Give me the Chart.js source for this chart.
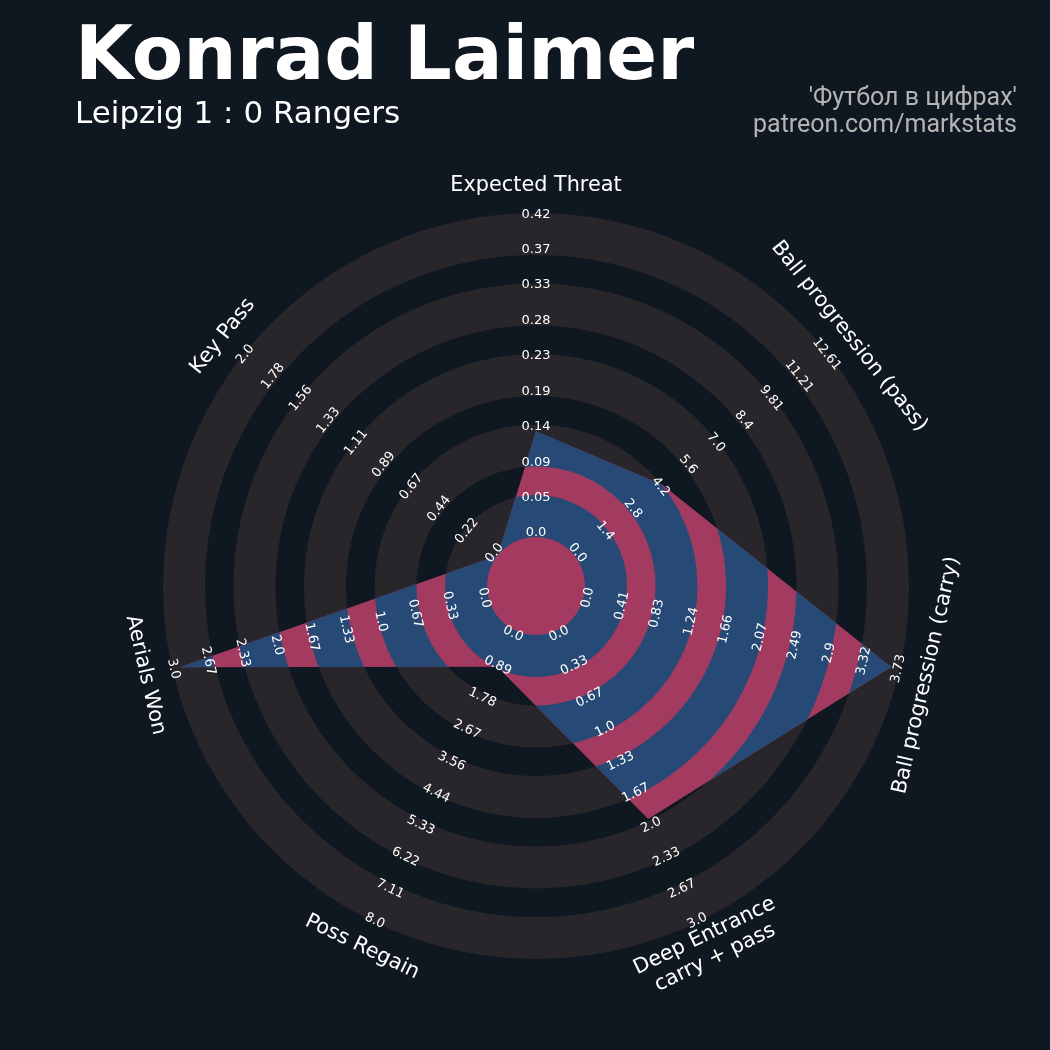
<!DOCTYPE html>
<html>
<head>
<meta charset="utf-8">
<script src="https://cdn.jsdelivr.net/npm/chart.js@4.4.1/dist/chart.umd.min.js"></script>
<style>
  html, body { margin: 0; padding: 0; background: #0f1820; }
  #wrap { position: relative; width: 1050px; height: 1050px; overflow: hidden; background: #0f1820; }
  #chart { position: absolute; left: 0; top: 0; }
  .txt { position: absolute; white-space: nowrap; line-height: 1; }
  #title { left: 75px; top: 9px; font: bold 75px "DejaVu Sans"; color: #ffffff; }
  #subtitle { left: 75px; top: 94px; font: 31px "DejaVu Sans"; color: #ffffff; }
  #credit1 { right: 33px; top: 82px; font: 25px Roboto; color: #b4b4b4; }
  #credit2 { right: 33px; top: 109px; font: 25px Roboto; color: #b4b4b4; }
</style>
</head>
<body>
<div id="wrap">
  <canvas id="chart" width="1050" height="1050"></canvas>
  <div class="txt" id="title">Konrad Laimer</div>
  <div class="txt" id="subtitle">Leipzig 1 : 0 Rangers</div>
  <div class="txt" id="credit1">'Футбол в цифрах'</div>
  <div class="txt" id="credit2">patreon.com/markstats</div>
</div>
<script>
// ---------------- data ----------------
const params = ['Expected Threat', 'Ball progression (pass)', 'Ball progression (carry)',
                ['Deep Entrance', 'carry + pass'], 'Poss Regain', 'Aerials Won', 'Key Pass'];
const lowRange  = [0, 0, 0, 0, 0, 0, 0];
const highRange = [0.42, 12.61, 3.73, 3.0, 8.0, 3.0, 2.0];
const playerValues = [0.137, 4.4, 3.63, 1.94, 1.0, 2.93, 0.0];

const ticksXT      = ['0.0', '0.05', '0.09', '0.14', '0.19', '0.23', '0.28', '0.33', '0.37', '0.42'];
const ticksPass    = ['0.0', '1.4', '2.8', '4.2', '5.6', '7.0', '8.4', '9.81', '11.21', '12.61'];
const ticksCarry   = ['0.0', '0.41', '0.83', '1.24', '1.66', '2.07', '2.49', '2.9', '3.32', '3.73'];
const ticksDeep    = ['0.0', '0.33', '0.67', '1.0', '1.33', '1.67', '2.0', '2.33', '2.67', '3.0'];
const ticksRegain  = ['0.0', '0.89', '1.78', '2.67', '3.56', '4.44', '5.33', '6.22', '7.11', '8.0'];
const ticksAerials = ['0.0', '0.33', '0.67', '1.0', '1.33', '1.67', '2.0', '2.33', '2.67', '3.0'];
const ticksKeyPass = ['0.0', '0.22', '0.44', '0.67', '0.89', '1.11', '1.33', '1.56', '1.78', '2.0'];
const tickLabels = [ticksXT, ticksPass, ticksCarry, ticksDeep, ticksRegain, ticksAerials, ticksKeyPass];

// ---------------- styling / geometry ----------------
const RING_GRAY = '#28252b';
const RING_BLUE = '#264a75';
const RADAR_FILL = '#a33a60';
const CENTER_FRAC = 49 / 324;            // inner empty radius relative to value span
const RING_W = 42 / 324, RING_PERIOD = 70.5 / 324;
const NUM_RINGS = 5;
const LABEL_T0 = 4 / 324, LABEL_T1 = 322.7 / 324;

const normValues = playerValues.map((v, i) => (v - lowRange[i]) / (highRange[i] - lowRange[i]));

function annulus(ctx, s, a, b) {
  const cx = s.xCenter, cy = s.yCenter;
  const r1 = s.getDistanceFromCenterForValue(a);
  const r2 = s.getDistanceFromCenterForValue(b);
  ctx.beginPath();
  ctx.arc(cx, cy, r2, 0, Math.PI * 2);
  ctx.moveTo(cx + r1, cy);
  ctx.arc(cx, cy, r1, 0, Math.PI * 2, true);
  ctx.fill();
}
function drawRings(ctx, s, color) {
  ctx.fillStyle = color;
  for (let k = 0; k < NUM_RINGS; k++) {
    const a = k * RING_PERIOD;
    annulus(ctx, s, a, Math.min(1, a + RING_W));
  }
}
function textRotation(s, i) {
  let rot = -s.getIndexAngle(i) * 180 / Math.PI;   // ccw degrees
  while (rot <= -90) rot += 180;
  while (rot > 90) rot -= 180;
  return rot;
}

const radarDecor = {
  id: 'radarDecor',
  beforeDatasetsDraw(chart) {
    const s = chart.scales.r, ctx = chart.ctx;
    ctx.save();
    drawRings(ctx, s, RING_GRAY);
    ctx.restore();
  },
  afterDatasetsDraw(chart) {
    const s = chart.scales.r, ctx = chart.ctx;
    const meta = chart.getDatasetMeta(0);
    // rings inside the radar polygon
    ctx.save();
    ctx.beginPath();
    meta.data.forEach((pt, i) => { if (i === 0) ctx.moveTo(pt.x, pt.y); else ctx.lineTo(pt.x, pt.y); });
    ctx.closePath();
    ctx.clip();
    drawRings(ctx, s, RING_BLUE);
    ctx.restore();

    // range labels
    ctx.save();
    ctx.fillStyle = '#ffffff';
    ctx.font = '13px "DejaVu Sans"';
    ctx.textAlign = 'center';
    ctx.textBaseline = 'middle';
    for (let i = 0; i < params.length; i++) {
      const rot = textRotation(s, i) * Math.PI / 180;
      const labs = tickLabels[i];
      for (let k = 0; k < labs.length; k++) {
        const t = LABEL_T0 + (LABEL_T1 - LABEL_T0) * k / (labs.length - 1);
        const r = s.getDistanceFromCenterForValue(t);
        const p = s.getPointPosition(i, r);
        ctx.save();
        ctx.translate(p.x, p.y);
        ctx.rotate(-rot);
        ctx.fillText(labs[k], 0, 0);
        ctx.restore();
      }
    }
    // parameter labels
    ctx.font = '20.8px "DejaVu Sans"';
    for (let i = 0; i < params.length; i++) {
      const rot = textRotation(s, i) * Math.PI / 180;
      const p = s.getPointPosition(i, s.drawingArea * 1.074);
      const lines = Array.isArray(params[i]) ? params[i] : [params[i]];
      const lh = 24;
      ctx.save();
      ctx.translate(p.x, p.y);
      ctx.rotate(-rot);
      lines.forEach((ln, j) => {
        ctx.fillText(ln, 0, (j - (lines.length - 1) / 2) * lh);
      });
      ctx.restore();
    }
    ctx.restore();
  }
};

new Chart(document.getElementById('chart'), {
  type: 'radar',
  data: {
    labels: params,
    datasets: [{
      data: normValues,
      backgroundColor: RADAR_FILL,
      borderColor: 'rgba(0,0,0,0)',
      borderWidth: 0,
      pointRadius: 0,
      pointHoverRadius: 0,
      fill: 'start',
      tension: 0
    }]
  },
  options: {
    responsive: false,
    animation: false,
    devicePixelRatio: 1,
    layout: { padding: { left: 163, right: 141, top: 213, bottom: 91 } },
    plugins: { legend: { display: false }, tooltip: { enabled: false }, title: { display: false } },
    scales: {
      r: {
        min: -CENTER_FRAC,
        max: 1,
        startAngle: 0,
        grid: { display: false },
        angleLines: { display: false },
        ticks: { display: false },
        pointLabels: { display: false }
      }
    }
  },
  plugins: [radarDecor]
});
</script>
</body>
</html>
